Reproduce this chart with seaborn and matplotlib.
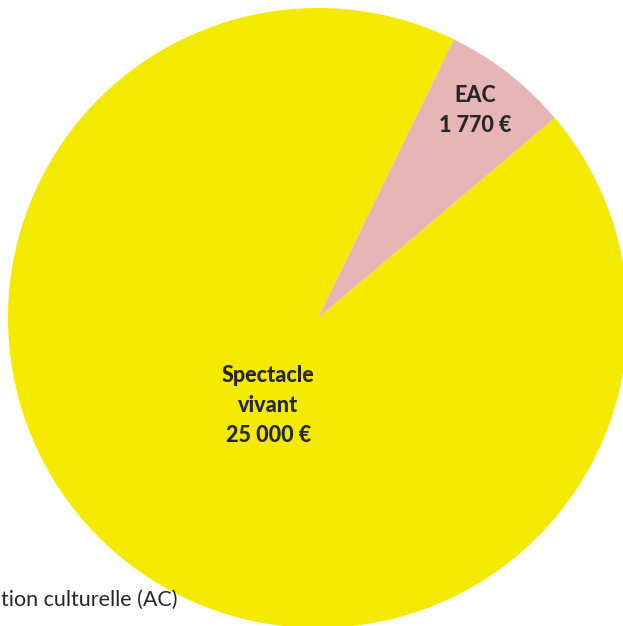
import numpy as np
import matplotlib
matplotlib.use("Agg")
import matplotlib.pyplot as plt
import seaborn as sns

categories = ["Spectacle vivant", "EAC"]
values = [25000, 1770]
value_labels = ["25 000 €", "1 770 €"]
colors = ["#F4EA00", "#E6B6B7"]
legend_label = "tion culturelle (AC)"

sns.set_theme(style="white")
plt.rcParams['font.family'] = ['Lato', 'DejaVu Sans']

fig = plt.figure(figsize=(6.23, 6.26), dpi=100)
W, H = 623, 626
cx, cy, r = 318, 318, 310
ax = fig.add_axes([(cx - r) / W, (H - cy - r) / H, 2 * r / W, 2 * r / H])
ax.axis('off')

wedges, _ = ax.pie(values, colors=colors, startangle=64, counterclock=True,
                   radius=1, wedgeprops=dict(linewidth=0))
ax.set_xlim(-1, 1)
ax.set_ylim(-1, 1)
ax.set_aspect('equal')

text_col = "#262626"
label_radius = [0.326, 0.84]
label_angle_shift = [8.3, 0.8]
for w, cat, vl, d, sh in zip(wedges, categories, value_labels, label_radius, label_angle_shift):
    ang = np.deg2rad((w.theta1 + w.theta2) / 2 + sh)
    if cat == "Spectacle vivant":
        txt = "Spectacle\nvivant\n" + vl
    else:
        txt = cat + "\n" + vl
    t = ax.text(d * np.cos(ang), d * np.sin(ang), txt, ha='center', va='center',
                fontsize=15.5, fontweight=900, color=text_col, linespacing=1.53)
    t.set_path_effects([])

fig.text(1 / W, 1 - 600 / H, legend_label, ha='left', va='center',
         fontsize=15.5, color=text_col)

fig.savefig("out.png", dpi=100)
